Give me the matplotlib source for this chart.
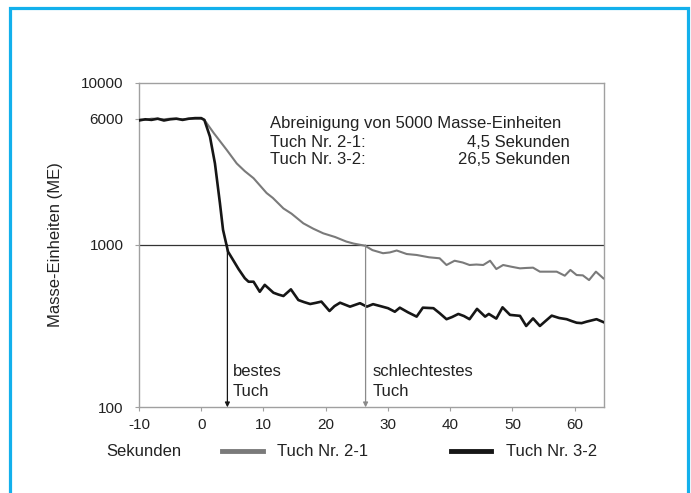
import matplotlib
matplotlib.use("Agg")
import matplotlib.pyplot as plt
from matplotlib.patches import Rectangle

plt.rcParams['font.family'] = ['Liberation Sans', 'DejaVu Sans']

# ---- data ----
plateau_t = [-10, -9, -8, -7, -6, -5, -4, -3, -2, -1, 0]
gray_plateau = [5950, 5900, 6000, 6000, 5950, 6000, 6000, 5950, 6000, 6000, 6000]
black_plateau = [5850, 5950, 5900, 6000, 5850, 5950, 6000, 5900, 6000, 6050, 6050]

gray_t = [0.5, 2.0, 4.1, 5.7, 7.0, 8.4, 10.5, 11.5, 13.2, 14.5,
          16.4, 18.0, 19.6, 21.5, 23.3, 24.5, 26.3, 27.5, 29.2, 30.3,
          31.4, 33.0, 34.6, 36.6, 38.3, 39.4, 40.7, 42.0, 43.1, 44.2,
          45.3, 46.4, 47.4, 48.5, 49.8, 51.2, 52.2, 53.3, 54.4, 55.5,
          57.1, 58.4, 59.3, 60.3, 61.3, 62.3, 63.4, 64.6]
gray_v = [5900, 4900, 3850, 3180, 2850, 2580, 2090, 1950, 1680, 1560,
          1360, 1260, 1180, 1120, 1050, 1020, 990, 930, 890, 900,
          925, 880, 868, 840, 828, 753, 800, 780, 753, 758,
          753, 800, 711, 753, 735, 718, 722, 725, 685, 685,
          685, 647, 702, 653, 650, 608, 685, 623]

black_t = [0.5, 1.4, 2.2, 3.0, 3.5, 4.3, 5.1, 6.0, 7.0, 7.6,
           8.4, 9.4, 10.2, 11.6, 12.4, 13.2, 14.4, 15.6, 16.5, 17.5,
           18.4, 19.3, 20.6, 21.4, 22.3, 23.9, 25.5, 26.6, 27.6, 28.8,
           30.0, 31.1, 31.9, 33.2, 34.6, 35.6, 37.3, 38.3, 39.4, 40.3,
           41.3, 42.2, 43.1, 44.3, 45.6, 46.2, 47.4, 48.4, 49.6, 51.2,
           52.2, 53.3, 54.4, 55.3, 56.3, 57.5, 58.7, 59.5, 60.3, 61.1,
           61.9, 63.5, 64.6]
black_v = [5900, 4650, 3180, 1810, 1240, 910, 810, 710, 624, 594,
           594, 515, 568, 508, 495, 485, 533, 458, 445, 433,
           440, 448, 392, 420, 441, 417, 438, 417, 432, 420,
           408, 388, 411, 385, 362, 411, 408, 380, 349, 360,
           376, 365, 349, 404, 362, 376, 352, 413, 371, 366,
           317, 353, 317, 340, 367, 355, 349, 340, 332, 330,
           337, 349, 335]

x_ticks = [-10, 0, 10, 20, 30, 40, 50, 60]
y_ticks = [100, 1000, 6000, 10000]
y_tick_labels = ['100', '1000', '6000', '10000']
threshold = 1000
best_time = 4.2
worst_time = 26.4
series_names = ['Tuch Nr. 2-1', 'Tuch Nr. 3-2']

GRAY = '#7a7a7a'
BLACK = '#161616'
SPINE = '#a0a0a0'
TXT = '#222222'
FS = 12
TFS = 11

fig = plt.figure(figsize=(6.91, 4.93), dpi=100)
W, H = 691, 493

# blue frame
fig.patches.append(Rectangle((10 / W, -0.05), (688 - 10) / W, 1.05 - 7.5 / H,
                             transform=fig.transFigure, fill=False,
                             edgecolor='#12b0ec', linewidth=2.3))

ax = fig.add_axes([139 / W, 1 - 407.3 / H, (604 - 139) / W, (407.3 - 82.7) / H])
ax.set_yscale('log')
ax.set_xlim(-10, 64.7)
ax.set_ylim(100, 10000)

ax.plot(plateau_t + gray_t, gray_plateau + gray_v, color=GRAY, lw=1.5,
        solid_joinstyle='round', zorder=3)
ax.plot(plateau_t + black_t, black_plateau + black_v, color=BLACK, lw=1.9,
        solid_joinstyle='round', zorder=4)

ax.axhline(threshold, color='#333333', lw=0.9, zorder=2)

# arrows
ax.annotate('', xy=(best_time, 100), xytext=(best_time, threshold),
            arrowprops=dict(arrowstyle='-|>', color=BLACK, lw=0.9,
                            mutation_scale=7, shrinkA=0, shrinkB=0), zorder=5)
ax.annotate('', xy=(worst_time, 100), xytext=(worst_time, threshold),
            arrowprops=dict(arrowstyle='-|>', color='#8a8a8a', lw=0.9,
                            mutation_scale=7, shrinkA=0, shrinkB=0), zorder=5)

ax.set_xticks(x_ticks)
ax.set_xticklabels([str(v) for v in x_ticks])
ax.set_yticks(y_ticks)
ax.set_yticklabels(y_tick_labels)
ax.yaxis.set_minor_locator(matplotlib.ticker.NullLocator())
ax.tick_params(axis='both', which='major', length=3, width=0.8, color=SPINE,
               labelsize=TFS, labelcolor=TXT)
ax.tick_params(axis='y', pad=8)
ax.tick_params(axis='x', pad=5)
for s in ax.spines.values():
    s.set_color(SPINE)
    s.set_linewidth(1.0)

ax.set_ylabel('Masse-Einheiten (ME)', fontsize=FS, color=TXT)
ax.yaxis.set_label_coords(-(139 - 63) / (604 - 139), 0.5)

# annotation text block (figure pixel coords)
def ftext(x, y, s, ha='left'):
    fig.text(x / W, 1 - y / H, s, ha=ha, va='center', fontsize=FS, color=TXT)

ftext(270, 124, 'Abreinigung von 5000 Masse-Einheiten')
ftext(270, 142, 'Tuch Nr. 2-1:')
ftext(570, 142, '4,5 Sekunden', ha='right')
ftext(270, 160, 'Tuch Nr. 3-2:')
ftext(570, 160, '26,5 Sekunden', ha='right')
ftext(233, 372, 'bestes')
ftext(233, 392, 'Tuch')
ftext(373, 372, 'schlechtestes')
ftext(373, 392, 'Tuch')

# legend row
ftext(106, 451, 'Sekunden')
fig.add_artist(plt.Line2D([222 / W, 263 / W], [1 - 451 / H, 1 - 451 / H],
                          color=GRAY, lw=3.5, transform=fig.transFigure))
ftext(277, 451, series_names[0])
fig.add_artist(plt.Line2D([451 / W, 491 / W], [1 - 451 / H, 1 - 451 / H],
                          color=BLACK, lw=3.5, transform=fig.transFigure))
ftext(506, 451, series_names[1])

fig.savefig('out.png', dpi=100)
